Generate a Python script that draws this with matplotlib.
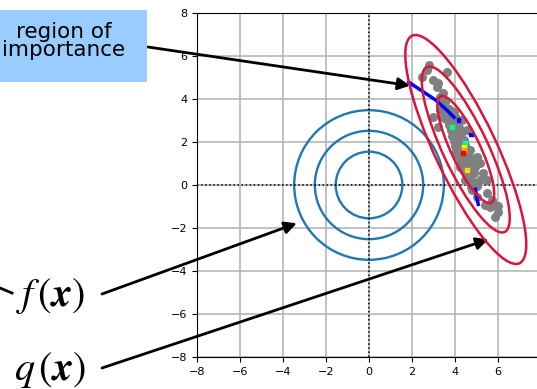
import numpy as np
import matplotlib.pyplot as plt
from matplotlib.patches import Circle, Ellipse, Rectangle

plt.rcParams['mathtext.fontset'] = 'stix'

# target density f(x): circular contours (radii)
f_radii = [1.55, 2.52, 3.48]

# proposal q(x): tilted ellipses
q_center = (4.5, 1.65)
q_angle = -64.7
q_semi_major = [2.74, 4.24, 5.85]
q_semi_minor = [0.68, 1.05, 1.43]

# samples
samp_x = [2.81, 2.45, 3.61, 3.22, 3.46, 2.99, 3.38, 3.22, 3.84, 4.31, 4.54, 4.08, 4.00,
          4.70, 5.01, 4.23, 4.93, 5.16, 5.32, 4.70, 4.47, 5.16, 5.47, 4.78, 5.47, 5.01,
          5.86, 5.63, 6.01, 5.86, 5.71, 5.40, 3.30, 2.68, 2.99, 3.15, 3.30, 5.55, 6.01,
          3.35, 3.55, 3.45, 3.70, 3.50, 3.75, 3.95, 3.60, 3.85, 4.05, 3.70, 3.95, 4.15,
          3.80, 4.05, 4.25, 3.85, 4.10, 4.30, 3.95, 4.20, 4.40, 4.00, 4.25, 4.45, 4.10,
          4.35, 4.55, 4.20, 4.45, 4.65, 4.30, 4.55, 4.75, 4.40, 4.60, 4.80, 4.50, 4.70,
          4.90, 4.60, 4.85, 4.75, 5.00]
samp_y = [5.58, 5.04, 5.27, 4.73, 4.26, 3.18, 3.18, 2.71, 2.56, 3.02, 2.56, 2.09, 1.47,
          1.63, 1.32, 0.85, 0.85, 1.01, 0.54, 0.39, 0.23, 0.23, 0.23, -0.23, -0.39, -0.54,
          -0.93, -1.01, -1.24, -1.47, -0.70, -0.93, 3.49, 5.35, 4.88, 4.57, 4.11, -0.93, -0.98,
          3.90, 3.85, 3.60, 3.55, 3.30, 3.30, 3.40, 3.05, 3.05, 3.10, 2.80, 2.80, 2.85,
          2.55, 2.55, 2.60, 2.30, 2.30, 2.35, 2.05, 2.05, 2.10, 1.80, 1.80, 1.85, 1.55,
          1.55, 1.60, 1.30, 1.30, 1.35, 1.05, 1.05, 1.10, 0.80, 0.75, 0.80, 0.50, 0.50,
          0.55, 0.20, 0.15, -0.10, -0.05]

# blue trajectory
path_x = [1.85, 2.5, 3.1, 3.6, 3.95]
path_y = [4.78, 4.35, 3.95, 3.5, 3.15]
tail_x = [4.95, 5.0, 5.08]
tail_y = [-0.2, -0.55, -0.9]
# coloured bits
bits_x = [4.47, 4.44, 4.42, 4.40, 4.39, 3.84, 4.54, 4.16, 4.75]
bits_y = [1.95, 1.85, 1.75, 1.62, 1.48, 2.71, 0.70, 3.02, 2.35]
bits_c = ['cyan', 'lime', 'yellow', 'orange', 'red', 'springgreen', 'gold', 'blue', 'blue']

fig = plt.figure(figsize=(5.37, 3.89), dpi=100)
ax = fig.add_axes([0.3669, 0.0823, 0.6406, 0.8843])
ax.set_xlim(-8, 8)
ax.set_ylim(-8, 8)
ax.set_xticks(range(-8, 7, 2))
ax.set_yticks(range(-8, 9, 2))
ax.tick_params(labelsize=8)
ax.grid(True, color='#b0b0b0', lw=1.1)
ax.set_axisbelow(True)
ax.axhline(0, color='k', ls=':', lw=1.1)
ax.axvline(0, color='k', ls=':', lw=1.1)

for r in f_radii:
    ax.add_patch(Circle((0, 0), r, fill=False, ec='#1f77b4', lw=1.7))

ax.scatter(samp_x, samp_y, s=30, color='gray', zorder=3)
ax.plot(path_x, path_y, color='blue', lw=2.5, zorder=4)
ax.plot(tail_x, tail_y, color='blue', lw=2.5, zorder=4)
ax.scatter(bits_x, bits_y, s=8, c=bits_c, marker='s', zorder=4)

for a, b in zip(q_semi_major, q_semi_minor):
    ax.add_patch(Ellipse(q_center, 2 * a, 2 * b, angle=q_angle, fill=False,
                         ec='crimson', lw=1.8, zorder=5))

# annotations
fig.patches.append(Rectangle((-0.02, 1 - 82 / 389), 0.294, 72 / 389,
                             transform=fig.transFigure, fc='#99ccff', ec='none'))
fig.text(0.118, 1 - 41 / 389, 'region of\nimportance', ha='center', va='center',
         fontsize=15.5, linespacing=0.9)
arrow = dict(arrowstyle='-|>', color='k', lw=2, mutation_scale=18, shrinkA=0, shrinkB=0)
ax.annotate('', xy=(1.91, 4.62), xycoords='data', xytext=(148 / 537, 1 - 47 / 389),
            textcoords='figure fraction', arrowprops=arrow, annotation_clip=False)
ax.annotate('', xy=(-3.36, -1.78), xycoords='data', xytext=(102 / 537, 1 - 294 / 389),
            textcoords='figure fraction', arrowprops=arrow, annotation_clip=False)
ax.annotate('', xy=(5.55, -2.53), xycoords='data', xytext=(102 / 537, 1 - 368 / 389),
            textcoords='figure fraction', arrowprops=arrow, annotation_clip=False)
fig.add_artist(plt.Line2D([0, 12 / 537], [1 - 288 / 389, 1 - 293 / 389], color='k', lw=2))

fig.text(0.094, 1 - 296 / 389, r'$f\,(\boldsymbol{x})$', ha='center', va='center', fontsize=29)
fig.text(0.094, 1 - 370 / 389, r'$q\,(\boldsymbol{x})$', ha='center', va='center', fontsize=29)

fig.savefig('out.png', dpi=100)
